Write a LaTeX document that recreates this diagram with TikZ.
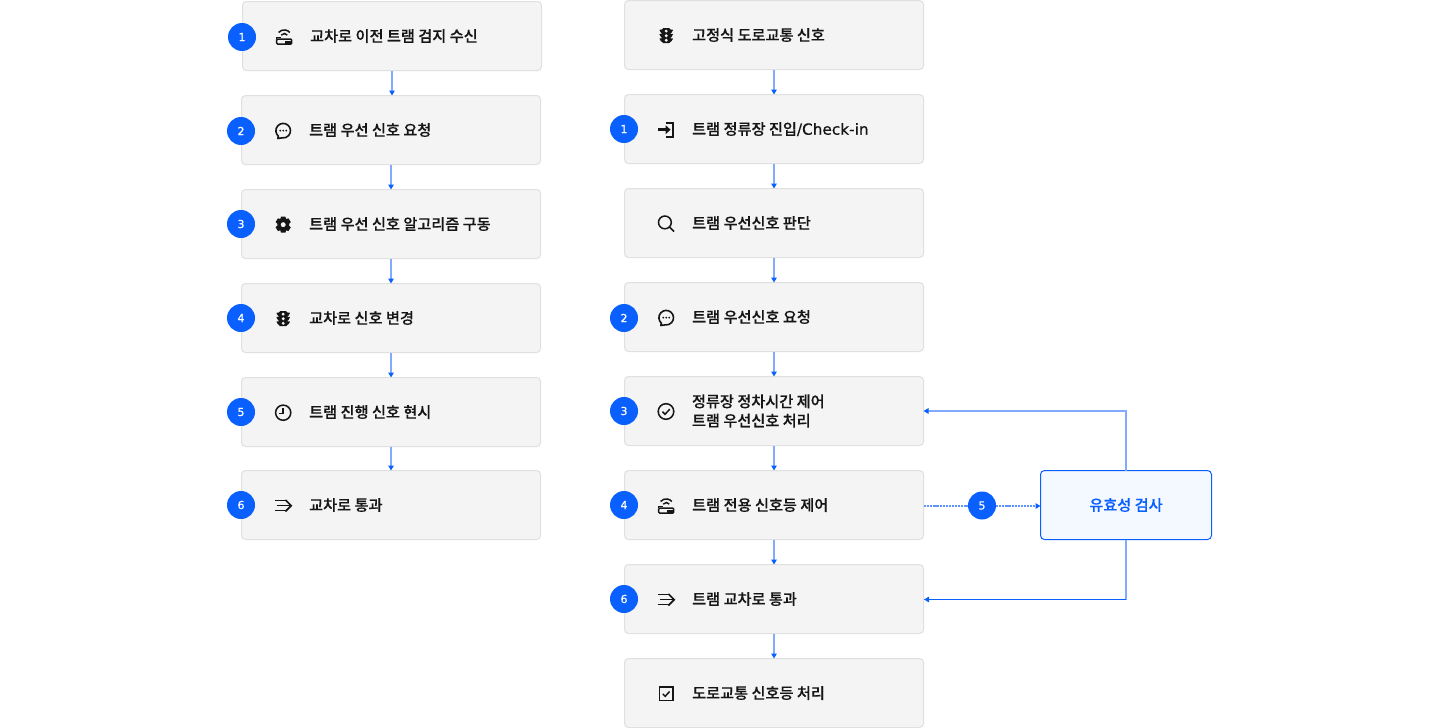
\documentclass[tikz,border=0pt]{standalone}
\usepackage{fontspec}
\usetikzlibrary{arrows.meta}
\newfontfamily\krfont[FakeBold=0.25]{Noto Sans CJK KR Medium}
\newfontfamily\latfont[FakeBold=0.7]{DejaVu Sans}
\definecolor{flowblue}{HTML}{0A5FFF}
\definecolor{flowsoft}{HTML}{82ABFF}
\definecolor{flowmid}{HTML}{5F94FF}
\definecolor{boxfill}{HTML}{F4F4F4}
\definecolor{boxline}{HTML}{E0E0E0}
\definecolor{checkfill}{HTML}{F4F8FF}
\definecolor{ink}{HTML}{161616}
\tikzset{
  x=1pt,y=-1pt,
  flowtip/.tip={Triangle[length=5pt,width=5.5pt,color=flowblue]},
  stepbox/.style={draw=boxline,fill=boxfill,line width=1pt,rounded corners=4pt,minimum width=299pt,minimum height=69pt,inner sep=0pt,outer sep=0pt},
  checkbox/.style={draw=flowblue,fill=checkfill,line width=1pt,rounded corners=4pt,minimum width=171pt,minimum height=69pt,inner sep=0pt,outer sep=0pt,text=flowblue,font=\krfont\fontsize{15.2}{20}\selectfont},
  steptext/.style={anchor=base west,inner sep=0pt,outer sep=0pt,text=ink,align=left,font=\krfont\fontsize{15.2}{20}\selectfont},
  badge/.style={circle,fill=flowblue,minimum size=28pt,inner sep=0pt,outer sep=0pt,text=white,font=\latfont\fontsize{11}{12}\selectfont},
  flow/.style={draw=flowsoft,line width=1.8pt,-flowtip},
  flowhard/.style={draw=flowblue,line width=1pt,-flowtip},
  flowplain/.style={draw=flowsoft,line width=1.8pt},
  flowdash/.style={draw=flowmid,line width=2pt,dash pattern=on 2.2pt off 0.9pt},
  ic/.style={draw=ink,line width=1.5pt,fill=none},
  icf/.style={fill=ink,draw=none},
  router/.pic={
    \draw[ic,rounded corners=1pt] (-7.5,7.4) -- (-7.5,2.4) -- (7.5,2.4) -- (7.5,7.4) -- cycle;
    \fill[icf] (0.5,4.2) rectangle (7.5,7.4);
    \draw[ic] (-3,-1.6) arc[start angle=215,end angle=325,radius=3.7];
    \draw[ic] (-5.6,-4.2) arc[start angle=220,end angle=320,radius=7.3];
    \draw[ic] (-7.5,2.4) -- (-7.5,1) -- (-3.5,1);
  },
  chat/.pic={
    \draw[ic,line width=1.6pt,line join=round] (-5.4,7.8) .. controls (-4.8,7.2) and (-4.6,6.4) .. (-4.8,5.5) arc[start angle=131,end angle=460,radius=7.3] .. controls (-2.5,7.6) and (-4,7.9) .. cycle;
    \fill[icf] (-3,0) circle (1) (0,0) circle (1) (3,0) circle (1);
  },
  gear/.pic={
    \fill[icf,even odd rule] (-2.2,-8) -- (2.2,-8) -- (2.9,-5.6) -- (5.2,-6.4) -- (7.6,-2.6) -- (5.9,-1) -- (5.9,1) -- (7.6,2.6) -- (5.2,6.4) -- (2.9,5.6) -- (2.2,8) -- (-2.2,8) -- (-2.9,5.6) -- (-5.2,6.4) -- (-7.6,2.6) -- (-5.9,1) -- (-5.9,-1) -- (-7.6,-2.6) -- (-5.2,-6.4) -- (-2.9,-5.6) -- cycle (0,0) circle (2.6);
  },
  signal/.pic={
    \fill[icf,rounded corners=1.5pt] (-4.5,-7.5) rectangle (4.5,7.5);
    \fill[icf,rounded corners=.6pt] (-7,-6) -- (-3,-6) -- (-3,-2.5) -- (-5,-2.5) -- cycle (7,-6) -- (3,-6) -- (3,-2.5) -- (5,-2.5) -- cycle
      (-7,-1.8) -- (-3,-1.8) -- (-3,1.8) -- (-5,1.8) -- cycle (7,-1.8) -- (3,-1.8) -- (3,1.8) -- (5,1.8) -- cycle
      (-7,2.6) -- (-3,2.6) -- (-3,6) -- (-5,6) -- cycle (7,2.6) -- (3,2.6) -- (3,6) -- (5,6) -- cycle;
    \fill[boxfill] (0,-4.6) circle (1.6) (0,0) circle (1.6) (0,4.6) circle (1.6);
  },
  clock/.pic={
    \draw[ic] (0,0) circle (7.6);
    \draw[ic] (0,-4.5) -- (0,0.6) -- (-4,0.6);
  },
  flowin/.pic={
    \draw[ic] (-8.5,-5) -- (2.5,-5);
    \draw[ic] (-6.5,0) -- (7.5,0);
    \draw[ic] (-8.5,5) -- (2.5,5);
    \draw[ic,line width=1.7pt] (2.2,-5.8) -- (8,0) -- (2.2,5.8);
  },
  login/.pic={
    \draw[ic,line width=1.9pt] (-0.5,-7) -- (7,-7) -- (7,7) -- (-0.5,7);
    \draw[line width=2.6pt,draw=ink] (-8,0) -- (2,0);
    \fill[icf] (-0.5,-4.4) -- (4.4,0) -- (-0.5,4.4) -- cycle;
  },
  lens/.pic={
    \draw[ic] (-1.3,-1.3) circle (6.4);
    \draw[ic] (3.2,3.2) -- (7.8,7.8);
  },
  okcircle/.pic={
    \draw[ic] (0,0) circle (7.8);
    \draw[ic] (-3.6,0.2) -- (-1,2.8) -- (3.8,-2.4);
  },
  okbox/.pic={
    \draw[ic,line width=1.7pt] (-6.8,-6.8) rectangle (6.8,6.8);
    \draw[ic] (-3.4,0.2) -- (-1,2.6) -- (3.4,-2.2);
  }
}
\newcommand{\stepitem}[5]{%
  \node[stepbox] (#1) at (#2,#3) {};
  \node[steptext] (#1t) at (#2-149.5+67.7,#3+5.7) {#5};
  \pic at (#2-149.5+41.7,#3+0.7) {#4};
}
\begin{document}
\begin{tikzpicture}
\path[use as bounding box,fill=white] (0,0) rectangle (1440,728);
% left column
\stepitem{la}{392}{36}{router}{교차로 이전 트램 검지 수신}
\stepitem{lb}{391}{130}{chat}{트램 우선 신호 요청}
\stepitem{lc}{391}{224}{gear}{트램 우선 신호 알고리즘 구동}
\stepitem{ld}{391}{318}{signal}{교차로 신호 변경}
\stepitem{le}{391}{412}{clock}{트램 진행 신호 현시}
\stepitem{lf}{391}{505}{flowin}{교차로 통과}
\node[badge] (lab) at (242,37) {1};
\node[badge] (lbb) at (241,131) {2};
\node[badge] (lcb) at (241,224) {3};
\node[badge] (ldb) at (241,318) {4};
\node[badge] (leb) at (241,412) {5};
\node[badge] (lfb) at (241,505) {6};
% right column
\stepitem{ra}{774}{35}{signal}{고정식 도로교통 신호}
\stepitem{rb}{774}{129}{login}{트램 정류장 진입{\latfont\fontsize{15.3}{20}\selectfont/Check-in}}
\stepitem{rc}{774}{223}{lens}{트램 우선신호 판단}
\stepitem{rd}{774}{317}{chat}{트램 우선신호 요청}
\node[stepbox] (re) at (774,411) {};
\pic at (666,411.5) {okcircle};
\node[steptext,anchor=west] (ret) at (692,411) {정류장 정차시간 제어\\[-0.8pt]트램 우선신호 처리};
\stepitem{rf}{774}{505}{router}{트램 전용 신호등 제어}
\stepitem{rg}{774}{599}{flowin}{트램 교차로 통과}
\stepitem{rh}{774}{693}{okbox}{도로교통 신호등 처리}
\node[badge] (rbb) at (624,129) {1};
\node[badge] (rdb) at (624,318) {2};
\node[badge] (reb) at (624,411) {3};
\node[badge] (rfb) at (624,505) {4};
\node[badge] (rgb) at (624,599) {6};
% validity check
\node[checkbox] (chk) at (1126,505) {유효성 검사};
\node[badge] (five) at (982,505.5) {5};
\coordinate (rgin) at (924,599.5);
\coordinate (rgturn) at (1126,599.5);
% connectors
\draw[flow] (la.south) -- (la.south |- lb.north);
\draw[flow] (lb.south) -- (lc.north);
\draw[flow] (lc.south) -- (ld.north);
\draw[flow] (ld.south) -- (le.north);
\draw[flow] (le.south) -- (lf.north);
\draw[flow] (ra.south) -- (rb.north);
\draw[flow] (rb.south) -- (rc.north);
\draw[flow] (rc.south) -- (rd.north);
\draw[flow] (rd.south) -- (re.north);
\draw[flow] (re.south) -- (rf.north);
\draw[flow] (rf.south) -- (rg.north);
\draw[flow] (rg.south) -- (rh.north);
\draw[flow] (chk.north) |- (re.east);
\draw[flowplain] (chk.south) -- (rgturn);
\draw[flowhard] (rgturn) -- (rgin);
\coordinate (dashstart) at (924,506);
\coordinate (dashend) at (1040.5,506);
\draw[flowdash] (dashstart) -- (five.west |- dashstart);
\draw[flowdash,-flowtip] (five.east |- dashend) -- (dashend);
\end{tikzpicture}
\end{document}
